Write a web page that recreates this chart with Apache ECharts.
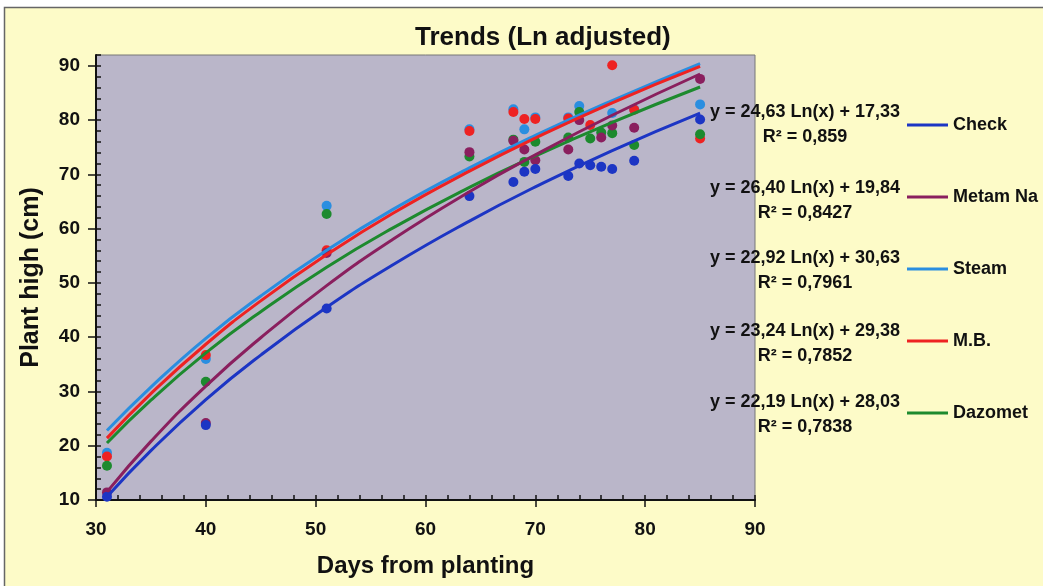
<!DOCTYPE html>
<html>
<head>
<meta charset="utf-8">
<script src="https://cdn.jsdelivr.net/npm/echarts@6/dist/echarts.min.js"></script>
<style>
  html, body { margin: 0; padding: 0; background: #fff; }
  #chart { width: 1043px; height: 586px; }
</style>
</head>
<body>
<div id="chart"></div>
<script>
// observation days and measured plant heights (cm), null = no visible point
const days = [31, 40, 51, 64, 68, 69, 70, 73, 74, 75, 76, 77, 79, 85];
const checkPts = [10.6, 23.8, 45.3, 66.0, 68.6, 70.5, 71.0, 69.7, 72.0, 71.7, 71.4, 71.0, 72.5, 80.1];
const metamPts = [11.4, 24.2, 55.5, 74.1, 76.2, 74.6, 72.6, 74.6, 80.0, null, 76.8, 79.0, 78.6, 87.6];
const steamPts = [18.7, 36.0, 64.2, 78.3, 82.0, 78.3, 80.5, 80.5, 82.6, null, null, 81.3, 82.0, 82.9];
const mbPts = [18.0, 36.7, 56.0, 78.0, 81.5, 80.2, 80.2, 80.3, null, 79.1, null, 90.1, 81.9, 76.6];
const dazometPts = [16.3, 31.8, 62.7, 73.3, 76.4, 72.3, 76.0, 76.8, 81.5, 76.6, 77.7, 77.6, 75.4, 77.4];

// log trend lines
const trendDays = [31, 35, 40, 45, 51, 57, 64, 70, 77, 85];
const checkTrend = [10.6, 19.1, 28.5, 36.7, 45.5, 53.3, 61.4, 67.7, 74.4, 81.3];
const metamTrend = [11.5, 20.8, 31.0, 39.9, 49.5, 58.0, 66.8, 73.6, 80.9, 88.5];
const steamTrend = [22.8, 30.8, 39.8, 47.6, 56.0, 63.5, 71.2, 77.2, 83.6, 90.4];
const mbTrend = [21.4, 29.6, 38.7, 46.7, 55.2, 62.8, 70.6, 76.7, 83.2, 89.9];
const dazometTrend = [20.5, 28.4, 37.1, 44.7, 52.9, 60.1, 67.6, 73.4, 79.6, 86.1];

const seriesNames = ["Check", "Metam Na", "Steam", "M.B.", "Dazomet"];
const equations = [
  "y = 24,63 Ln(x) + 17,33",
  "y = 26,40 Ln(x) + 19,84",
  "y = 22,92 Ln(x) + 30,63",
  "y = 23,24 Ln(x) + 29,38",
  "y = 22,19 Ln(x) + 28,03",
];
const rSquared = ["R² = 0,859", "R² = 0,8427", "R² = 0,7961", "R² = 0,7852", "R² = 0,7838"];
const xTicks = [30, 40, 50, 60, 70, 80, 90];
const yTicks = [10, 20, 30, 40, 50, 60, 70, 80, 90];

const colors = {
  "Check": "#1c35c4",
  "Metam Na": "#8a1f5e",
  "Steam": "#2a8ee0",
  "M.B.": "#ee2222",
  "Dazomet": "#1d8a2e",
};

const points = {
  "Check": checkPts, "Metam Na": metamPts, "Steam": steamPts, "M.B.": mbPts, "Dazomet": dazometPts,
};
const trends = {
  "Check": checkTrend, "Metam Na": metamTrend, "Steam": steamTrend, "M.B.": mbTrend, "Dazomet": dazometTrend,
};

const font = "'Liberation Sans', Arial, sans-serif";
const pair = (xs, ys) => xs.map((x, i) => [x, ys[i]]).filter((p) => p[1] != null);

const chart = echarts.init(document.getElementById("chart"));

// points first, lines above them; steam under red, as in the original
const drawOrder = ["Steam", "M.B.", "Dazomet", "Metam Na", "Check"];
const series = [];
drawOrder.forEach((name) => {
  series.push({
    name: name + " data",
    type: "scatter",
    symbolSize: 10,
    data: pair(days, points[name]),
    itemStyle: { color: colors[name], opacity: 1 },
    z: 3,
  });
});
drawOrder.forEach((name) => {
  series.push({
    name: name,
    type: "line",
    smooth: true,
    showSymbol: false,
    data: pair(trendDays, trends[name]),
    lineStyle: { color: colors[name], width: 3 },
    itemStyle: { color: colors[name] },
    z: 4,
  });
});

// equation labels and frame
const eqY = [112, 188, 258, 331, 402];
const graphic = [
  { type: "rect", shape: { x: 0, y: 0, width: 1043, height: 7 }, style: { fill: "#fff" }, silent: true },
  { type: "rect", shape: { x: 0, y: 0, width: 4, height: 586 }, style: { fill: "#fff" }, silent: true },
  {
    type: "rect",
    shape: { x: 4.5, y: 7.5, width: 1100, height: 700 },
    style: { fill: "none", stroke: "#666", lineWidth: 1.5 },
    silent: true,
  },
];
equations.forEach((eq, i) => {
  graphic.push({
    type: "text", x: 805, y: eqY[i], z: 10,
    style: { text: eq, fill: "#111", font: "bold 18px " + font, textAlign: "center", textVerticalAlign: "middle" },
  });
  graphic.push({
    type: "text", x: 805, y: eqY[i] + 25, z: 10,
    style: { text: rSquared[i], fill: "#111", font: "bold 18px " + font, textAlign: "center", textVerticalAlign: "middle" },
  });
});

const tickLabel = { fontFamily: font, fontWeight: "bold", fontSize: 19, color: "#111" };

chart.setOption({
  animation: false,
  backgroundColor: "#fdfbc8",
  title: {
    text: "Trends (Ln adjusted)",
    left: 410,
    top: 20,
    textStyle: { fontFamily: font, fontWeight: "bold", fontSize: 26, color: "#111" },
  },
  legend: {
    data: seriesNames,
    orient: "vertical",
    left: 907,
    top: 116,
    padding: 0,
    icon: "rect",
    itemWidth: 41,
    itemHeight: 3,
    itemGap: 54,
    selectedMode: false,
    textStyle: { fontFamily: font, fontWeight: "bold", fontSize: 18, color: "#111", lineHeight: 18 },
  },
  grid: {
    left: 96, top: 55, right: 288, bottom: 86,
    show: true, backgroundColor: "#bab6c9", borderColor: "#777", borderWidth: 1,
  },
  xAxis: [
    {
      type: "value", min: 30, max: 90, interval: 10,
      name: "Days from planting", nameLocation: "middle", nameGap: 54,
      nameTextStyle: { fontFamily: font, fontWeight: "bold", fontSize: 24, color: "#111" },
      axisLine: { lineStyle: { color: "#111", width: 2 } },
      axisTick: { length: 7, lineStyle: { color: "#111", width: 1.5 } },
      axisLabel: Object.assign({ margin: 20, customValues: xTicks }, tickLabel),
      splitLine: { show: false },
    },
    {
      type: "value", min: 30, max: 90, interval: 2, position: "bottom",
      axisLine: { show: false },
      axisTick: { inside: true, length: 5, lineStyle: { color: "#111", width: 1.5 } },
      axisLabel: { show: false },
      splitLine: { show: false },
    },
  ],
  yAxis: [
    {
      type: "value", min: 10, max: 92,
      name: "Plant high (cm)", nameLocation: "middle", nameGap: 52, nameRotate: 90,
      nameTextStyle: { fontFamily: font, fontWeight: "bold", fontSize: 25, color: "#111" },
      axisLine: { lineStyle: { color: "#111", width: 2 } },
      axisTick: { length: 8, customValues: yTicks, lineStyle: { color: "#111", width: 1.5 } },
      axisLabel: Object.assign({ margin: 16, customValues: yTicks }, tickLabel),
      splitLine: { show: false },
    },
    {
      type: "value", min: 10, max: 92, interval: 2, position: "left",
      axisLine: { show: false },
      axisTick: { inside: true, length: 5, lineStyle: { color: "#111", width: 1.5 } },
      axisLabel: { show: false },
      splitLine: { show: false },
    },
  ],
  graphic: graphic,
  series: series,
});
</script>
</body>
</html>
